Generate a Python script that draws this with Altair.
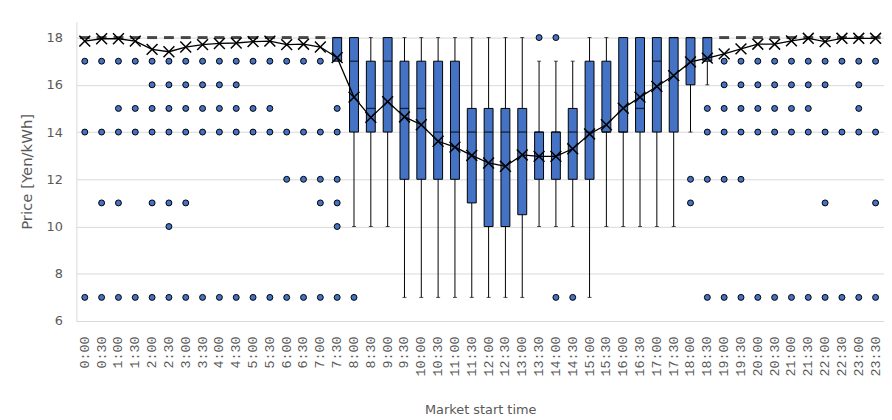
import altair as alt
import pandas as pd

times = ["0:00", "0:30", "1:00", "1:30", "2:00", "2:30", "3:00", "3:30",
         "4:00", "4:30", "5:00", "5:30", "6:00", "6:30", "7:00", "7:30",
         "8:00", "8:30", "9:00", "9:30", "10:00", "10:30", "11:00", "11:30",
         "12:00", "12:30", "13:00", "13:30", "14:00", "14:30", "15:00", "15:30",
         "16:00", "16:30", "17:00", "17:30", "18:00", "18:30", "19:00", "19:30",
         "20:00", "20:30", "21:00", "21:30", "22:00", "22:30", "23:00", "23:30"]

q1 = [18, 18, 18, 18, 18, 18, 18, 18, 18, 18, 18, 18, 18, 18, 18, 17,
      14, 14, 14, 12, 12, 12, 12, 11, 10, 10, 10.5, 12, 12, 12, 12, 14,
      14, 14, 14, 14, 16, 17, 18, 18, 18, 18, 18, 18, 18, 18, 18, 18]
q3 = [18, 18, 18, 18, 18, 18, 18, 18, 18, 18, 18, 18, 18, 18, 18, 18,
      18, 17, 18, 17, 17, 17, 17, 15, 15, 15, 15, 14, 14, 15, 17, 17,
      18, 18, 18, 18, 18, 18, 18, 18, 18, 18, 18, 18, 18, 18, 18, 18]
median = [18, 18, 18, 18, 18, 18, 18, 18, 18, 18, 18, 18, 18, 18, 18, 18,
          17, 15, 17, 15, 15, 14, 14, 14, 14, 14, 14, 14, 14, 14, 14, 14,
          14, 15, 17, 18, 18, 18, 18, 18, 18, 18, 18, 18, 18, 18, 18, 18]
whisker_lo = [18, 18, 18, 18, 18, 18, 18, 18, 18, 18, 18, 18, 18, 18, 18, 17,
              10, 10, 10, 7, 7, 7, 7, 7, 7, 7, 7, 10, 10, 10, 7, 10,
              10, 10, 10, 10, 14, 16, 18, 18, 18, 18, 18, 18, 18, 18, 18, 18]
whisker_hi = [18, 18, 18, 18, 18, 18, 18, 18, 18, 18, 18, 18, 18, 18, 18, 18,
              18, 18, 18, 18, 18, 18, 18, 18, 18, 18, 18, 17, 17, 17, 18, 18,
              18, 18, 18, 18, 18, 18, 18, 18, 18, 18, 18, 18, 18, 18, 18, 18]
mean = [17.85, 17.95, 17.95, 17.85, 17.5, 17.4, 17.6, 17.7, 17.75, 17.77, 17.83, 17.85,
        17.7, 17.72, 17.6, 17.15, 15.48, 14.62, 15.29, 14.64, 14.31, 13.61, 13.36, 13.01,
        12.69, 12.55, 13.03, 12.97, 12.97, 13.29, 13.92, 14.31, 15.01, 15.48, 15.93, 16.39,
        16.97, 17.13, 17.31, 17.52, 17.72, 17.72, 17.86, 17.97, 17.83, 17.97, 17.97, 17.97]
outliers = [
    [17, 14, 7], [17, 14, 11, 7], [17, 15, 14, 11, 7], [17, 15, 14, 7],
    [17, 16, 15, 14, 11, 7], [17, 16, 15, 14, 11, 10, 7], [17, 16, 15, 14, 11, 7], [17, 16, 15, 14, 7],
    [17, 16, 15, 14, 7], [17, 16, 15, 14, 7], [17, 15, 14, 7], [17, 15, 14, 7],
    [17, 14, 12, 7], [17, 14, 12, 7], [17, 14, 12, 11, 7], [15, 14, 12, 11, 10, 7],
    [7], [], [], [], [], [], [], [],
    [], [], [], [18], [18, 7], [7], [], [],
    [], [], [], [], [12, 11], [15, 14, 12, 7], [17, 16, 15, 14, 12, 7], [17, 16, 15, 14, 12, 7],
    [17, 16, 15, 14, 7], [17, 16, 15, 14, 7], [17, 16, 15, 14, 7], [17, 16, 15, 14, 7],
    [17, 16, 14, 11, 7], [17, 14, 7], [17, 16, 15, 14, 7], [17, 14, 11, 7],
]

stats = pd.DataFrame({"time": times, "q1": q1, "q3": q3, "median": median,
                      "lo": whisker_lo, "hi": whisker_hi, "mean": mean})
out_df = pd.DataFrame([{"time": t, "value": v} for t, vals in zip(times, outliers) for v in vals])
lo_caps = stats[stats["lo"] < stats["q1"]]
hi_caps = stats[stats["hi"] > stats["q3"]]
flat = stats[stats["q1"] == stats["q3"]]
open_boxes = stats[stats["q1"] < stats["q3"]]

GRAY = "#595959"
BLUE = "#4472C4"
FONT = "DejaVu Sans"

xenc = alt.X("time:N", sort=times,
             scale=alt.Scale(paddingInner=0, paddingOuter=0),
             axis=alt.Axis(title="Market start time", labelAngle=-90, ticks=False, tickSize=0,
                           domainColor="#d9d9d9", labelColor=GRAY, labelFontSize=13.5,
                           labelFont="Liberation Mono", labelPadding=15, titleFont=FONT,
                           titleFontSize=13, titleColor=GRAY, titleFontWeight="normal",
                           titlePadding=28, labelOverlap=False))
yscale = alt.Scale(domain=[6, 18.67], nice=False, zero=False)
yaxis = alt.Axis(title="Price [Yen/kWh]", values=[6, 8, 10, 12, 14, 16, 18], ticks=False,
                 tickSize=0, grid=True, gridColor="#d9d9d9", domainColor="#d9d9d9",
                 labelColor=GRAY, labelFontSize=13, labelFont=FONT, labelPadding=14,
                 titleFont=FONT, titleFontSize=15, titleColor=GRAY,
                 titleFontWeight="normal", titlePadding=12)

def Y(field):
    return alt.Y(f"{field}:Q", scale=yscale, axis=yaxis)

whiskers = alt.Chart(stats).mark_rule(color="black", strokeWidth=1).encode(
    x=xenc, y=Y("lo"), y2="hi:Q")
boxes = alt.Chart(open_boxes).mark_bar(size=9, color=BLUE, stroke="black", strokeWidth=1).encode(
    x=xenc, y=Y("q1"), y2="q3:Q")
med = alt.Chart(open_boxes).mark_tick(color="black", size=9, thickness=1.3).encode(
    x=xenc, y=Y("median"))
flat_boxes = alt.Chart(flat).mark_tick(color="black", size=10, thickness=3).encode(
    x=xenc, y=Y("median"))
caps_lo = alt.Chart(lo_caps).mark_tick(color="black", size=4, thickness=1).encode(
    x=xenc, y=Y("lo"))
caps_hi = alt.Chart(hi_caps).mark_tick(color="black", size=4, thickness=1).encode(
    x=xenc, y=Y("hi"))
pts = alt.Chart(out_df).mark_point(shape="circle", filled=True, fill=BLUE, stroke="black",
                                   strokeWidth=1, size=36, opacity=1).encode(
    x=xenc, y=Y("value"))
mean_line = alt.Chart(stats).mark_line(color="black", strokeWidth=1.3).encode(
    x=xenc, y=Y("mean"))
mean_pts = alt.Chart(stats).mark_point(shape="M-1,-1L1,1M-1,1L1,-1", filled=False,
                                       color="black", strokeWidth=1.5, size=120, opacity=1).encode(
    x=xenc, y=Y("mean"))

chart = alt.layer(whiskers, boxes, med, flat_boxes, caps_lo, caps_hi, pts, mean_line,
                  mean_pts).properties(
    width=815, height=302,
    padding={"left": 69, "top": 12, "right": 0, "bottom": 96},
    autosize=alt.AutoSizeParams(type="none"),
).configure_view(stroke=None)

chart.save("out.html", embed_options={"renderer": "svg", "actions": False})
